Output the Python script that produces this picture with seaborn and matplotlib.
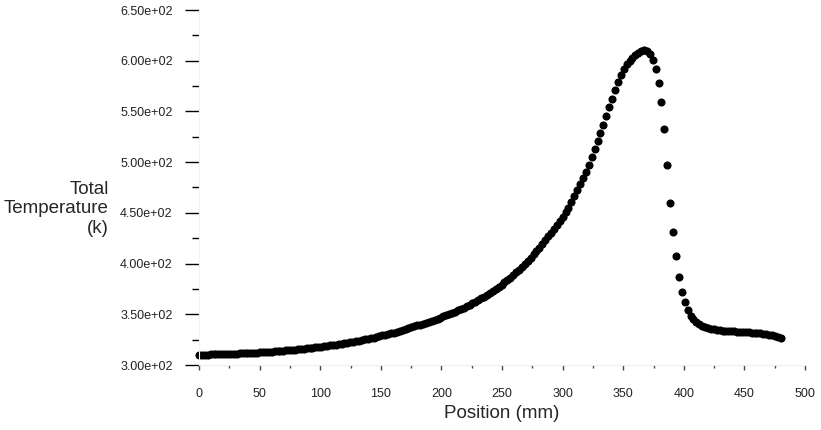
import pandas as pd
import seaborn as sns
import matplotlib.pyplot as plt
from matplotlib.ticker import MultipleLocator, FormatStrFormatter

# Position along the domain (mm)
position_mm = [
    0.0, 2.4, 4.8, 7.2, 9.6, 12.0, 14.4, 16.8, 19.2, 21.6,
    24.0, 26.4, 28.8, 31.2, 33.6, 36.0, 38.4, 40.8, 43.2, 45.6,
    48.0, 50.4, 52.8, 55.2, 57.6, 60.0, 62.4, 64.8, 67.2, 69.6,
    72.0, 74.4, 76.8, 79.2, 81.6, 84.0, 86.4, 88.8, 91.2, 93.6,
    96.0, 98.4, 100.8, 103.2, 105.6, 108.0, 110.4, 112.8, 115.2, 117.6,
    120.0, 122.4, 124.8, 127.2, 129.6, 132.0, 134.4, 136.8, 139.2, 141.6,
    144.0, 146.4, 148.8, 151.2, 153.6, 156.0, 158.4, 160.8, 163.2, 165.6,
    168.0, 170.4, 172.8, 175.2, 177.6, 180.0, 182.4, 184.8, 187.2, 189.6,
    192.0, 194.4, 196.8, 199.2, 201.6, 204.0, 206.4, 208.8, 211.2, 213.6,
    216.0, 218.4, 220.8, 223.2, 225.6, 228.0, 230.4, 232.8, 235.2, 237.6,
    240.0, 242.4, 244.8, 247.2, 249.6, 252.0, 254.4, 256.8, 259.2, 261.6,
    264.0, 266.4, 268.8, 271.2, 273.6, 276.0, 278.4, 280.8, 283.2, 285.6,
    288.0, 290.4, 292.8, 295.2, 297.6, 300.0, 302.4, 304.8, 307.2, 309.6,
    312.0, 314.4, 316.8, 319.2, 321.6, 324.0, 326.4, 328.8, 331.2, 333.6,
    336.0, 338.4, 340.8, 343.2, 345.6, 348.0, 350.4, 352.8, 355.2, 357.6,
    360.0, 362.4, 364.8, 367.2, 369.6, 372.0, 374.4, 376.8, 379.2, 381.6,
    384.0, 386.4, 388.8, 391.2, 393.6, 396.0, 398.4, 400.8, 403.2, 405.6,
    408.0, 410.4, 412.8, 415.2, 417.6, 420.0, 422.4, 424.8, 427.2, 429.6,
    432.0, 434.4, 436.8, 439.2, 441.6, 444.0, 446.4, 448.8, 451.2, 453.6,
    456.0, 458.4, 460.8, 463.2, 465.6, 468.0, 470.4, 472.8, 475.2, 477.6,
    480.0,
]

# Total temperature (K) at each position
total_temp = [
    310.0, 310.1, 310.2, 310.3, 310.4, 310.5, 310.6, 310.7, 310.8, 310.9,
    311.0, 311.1, 311.2, 311.3, 311.4, 311.6, 311.7, 311.8, 312.0, 312.1,
    312.3, 312.5, 312.7, 312.9, 313.1, 313.3, 313.5, 313.7, 313.9, 314.1,
    314.3, 314.6, 314.8, 315.1, 315.4, 315.7, 316.0, 316.4, 316.7, 317.1,
    317.5, 317.8, 318.2, 318.5, 318.9, 319.3, 319.7, 320.1, 320.6, 321.0,
    321.5, 322.0, 322.5, 323.0, 323.6, 324.1, 324.7, 325.3, 325.9, 326.4,
    327.0, 327.7, 328.4, 329.1, 329.9, 330.6, 331.3, 332.0, 332.8, 333.7,
    334.5, 335.4, 336.3, 337.2, 338.1, 339.0, 339.9, 340.8, 341.7, 342.6,
    343.5, 344.6, 345.7, 346.8, 347.9, 349.1, 350.3, 351.5, 352.7, 353.8,
    355.0, 356.4, 357.9, 359.4, 360.9, 362.5, 364.1, 365.8, 367.4, 369.2,
    371.0, 373.0, 375.0, 377.1, 379.3, 381.5, 383.8, 386.2, 388.7, 391.3,
    394.0, 396.8, 399.7, 402.7, 405.8, 409.0, 412.3, 415.7, 419.4, 423.3,
    427.0, 430.5, 434.0, 438.0, 442.0, 446.0, 450.5, 455.0, 461.0, 467.0,
    472.5, 478.0, 484.0, 490.5, 497.5, 505.0, 512.5, 520.5, 528.5, 537.0,
    545.5, 554.0, 562.5, 571.0, 579.0, 586.0, 592.0, 596.5, 600.0, 603.0,
    605.5, 607.5, 609.5, 611.0, 610.0, 607.0, 601.0, 592.0, 578.0, 559.0,
    533.0, 497.0, 460.0, 431.0, 407.0, 387.0, 372.0, 362.0, 354.0, 348.5,
    345.0, 342.5, 340.0, 338.5, 337.3, 336.5, 335.8, 335.2, 334.7, 334.3,
    334.0, 333.8, 333.6, 333.4, 333.2, 333.0, 332.8, 332.6, 332.4, 332.2,
    332.0, 331.8, 331.5, 331.2, 330.9, 330.5, 330.0, 329.3, 328.5, 327.5,
    326.5,
]

df = pd.DataFrame({"Position": position_mm, "Temperature": total_temp})

sns.set_style("white")
plt.rcParams["font.family"] = ["Liberation Sans", "DejaVu Sans"]

fig = plt.figure(figsize=(8.21, 4.30), dpi=100)
ax = fig.add_axes([199 / 821, 65 / 430, 606 / 821, 355 / 430])

sns.scatterplot(data=df, x="Position", y="Temperature", ax=ax,
                color="black", s=34, linewidth=0, clip_on=False)

ax.set_xlim(0, 500)
ax.set_ylim(300, 650)

ax.xaxis.set_major_locator(MultipleLocator(50))
ax.xaxis.set_minor_locator(MultipleLocator(25))
ax.yaxis.set_major_locator(MultipleLocator(50))
ax.yaxis.set_minor_locator(MultipleLocator(25))
ax.yaxis.set_major_formatter(FormatStrFormatter("%.2e"))

ax.tick_params(axis="y", which="major", direction="out", length=10, width=1,
               color="black", pad=9, labelsize=9, labelcolor="#222222")
ax.tick_params(axis="y", which="minor", direction="out", length=5, width=1,
               color="black")
ax.tick_params(axis="x", which="major", direction="out", length=3.5, width=1,
               color="#444444", pad=13, labelsize=9, labelcolor="#222222")
ax.tick_params(axis="x", which="minor", direction="out", length=2.5, width=1,
               color="#444444")
ax.tick_params(left=True, bottom=True, which="both")

for side in ["top", "right"]:
    ax.spines[side].set_visible(False)
ax.spines["left"].set_color("#f2f2f2")
ax.spines["bottom"].set_color("#eeeeee")

ax.set_xlabel("Position (mm)", fontsize=13.5, labelpad=4)
ax.set_ylabel("Total\nTemperature\n(k)", fontsize=13.5, rotation=0,
              ha="right", va="center", multialignment="right")
ax.yaxis.set_label_coords(-0.149, 0.44)

fig.savefig("out.png", dpi=100)
